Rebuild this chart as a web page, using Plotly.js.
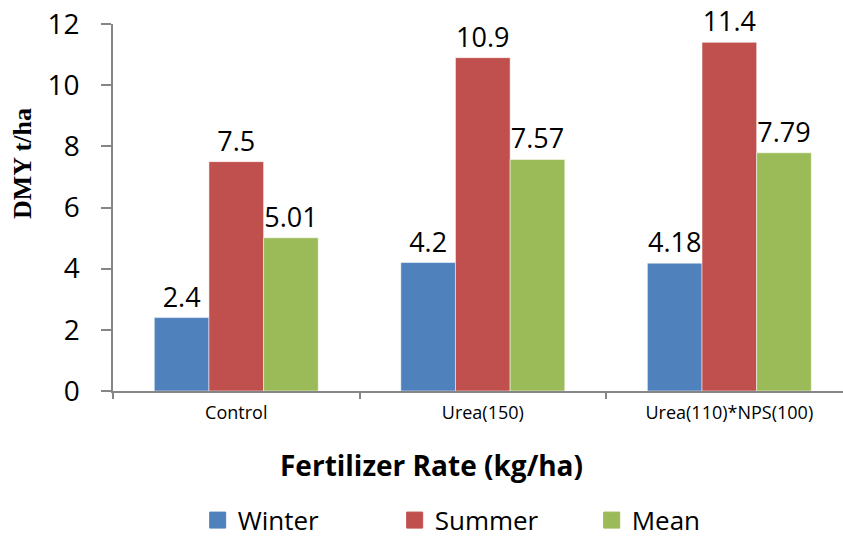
<!DOCTYPE html>
<html>
<head>
<meta charset="utf-8">
<script src="https://cdn.plot.ly/plotly-3.0.1.min.js"></script>
<style>html,body{margin:0;padding:0;background:#fff;}#chart{width:843px;height:540px;}</style>
</head>
<body>
<div id="chart"></div>
<script>
const categories = ["Control", "Urea(150)", "Urea(110)*NPS(100)"];
const winter = [2.4, 4.2, 4.18];
const summer = [7.5, 10.9, 11.4];
const mean = [5.01, 7.57, 7.79];
const seriesNames = ["Winter", "Summer", "Mean"];
const seriesColors = ["#4F81BD", "#C0504D", "#9BBB59"];
const yTicks = [0, 2, 4, 6, 8, 10, 12];

const seriesData = [winter, summer, mean];
const barTraces = seriesData.map((vals, i) => ({
  type: "bar",
  name: seriesNames[i],
  legendgroup: seriesNames[i],
  showlegend: false,
  x: categories,
  y: vals,
  text: vals.map(v => String(v)),
  textposition: "outside",
  cliponaxis: false,
  textfont: {family: "Open Sans, sans-serif", size: 27, color: "#000"},
  marker: {color: seriesColors[i], line: {color: "#ffffff", width: 0.5}},
  hoverinfo: "x+y"
}));
// legend-only entries with larger square keys
const legendTraces = seriesNames.map((nm, i) => ({
  type: "scatter",
  mode: "markers",
  name: nm,
  legendgroup: nm,
  x: [null],
  y: [null],
  marker: {symbol: "square", size: 16, color: seriesColors[i], line: {color: seriesColors[i], width: 1}},
  hoverinfo: "skip"
}));

const layout = {
  width: 843,
  height: 540,
  margin: {l: 113, r: 0, t: 24, b: 149, autoexpand: false},
  paper_bgcolor: "#fff",
  plot_bgcolor: "#fff",
  barmode: "group",
  bargap: 0.335,
  bargroupgap: 0,
  font: {family: "Open Sans, sans-serif", color: "#000"},
  xaxis: {
    type: "category",
    range: [-0.5, 2.461],
    showline: true,
    linecolor: "#868686",
    linewidth: 1.5,
    ticks: "outside",
    tickson: "boundaries",
    ticklen: 6,
    tickcolor: "#868686",
    tickwidth: 1.5,
    showgrid: false,
    zeroline: false,
    tickfont: {family: "Open Sans, sans-serif", size: 18, color: "#000"},
    ticklabelstandoff: 5
  },
  yaxis: {
    range: [0, 12],
    tickvals: yTicks,
    ticktext: yTicks.map(String),
    showline: true,
    linecolor: "#868686",
    linewidth: 1.5,
    ticks: "outside",
    ticklen: 10,
    tickcolor: "#868686",
    tickwidth: 1.5,
    showgrid: false,
    zeroline: false,
    tickfont: {family: "Open Sans, sans-serif", size: 28, color: "#000"},
    ticklabelstandoff: 16
  },
  showlegend: true,
  legend: {
    orientation: "h",
    x: 0.116,
    xanchor: "left",
    y: -0.352,
    yanchor: "middle",
    font: {family: "Open Sans, sans-serif", size: 26, color: "#000"},
    entrywidth: 152,
    traceorder: "normal"
  },
  annotations: [
    {
      text: "<b>DMY t/ha</b>",
      xref: "paper", yref: "paper",
      x: -0.123, y: 0.619,
      xanchor: "center", yanchor: "middle",
      textangle: -90,
      showarrow: false,
      font: {family: "Liberation Serif, Times New Roman, serif", size: 26, color: "#000"}
    },
    {
      text: "<b>Fertilizer Rate (kg/ha)</b>",
      xref: "paper", yref: "paper",
      x: 0.436, y: -0.202,
      xanchor: "center", yanchor: "middle",
      showarrow: false,
      font: {family: "Open Sans, sans-serif", size: 28, color: "#000"}
    }
  ]
};

Plotly.newPlot("chart", barTraces.concat(legendTraces), layout, {displayModeBar: false, responsive: false});
</script>
</body>
</html>
